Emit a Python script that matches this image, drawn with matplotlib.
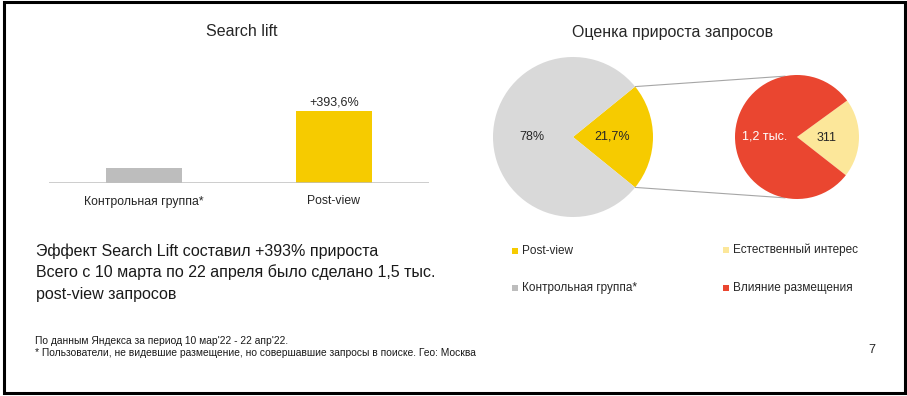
import matplotlib
matplotlib.use("Agg")
import matplotlib.pyplot as plt
from matplotlib.patches import Rectangle, ConnectionPatch
import numpy as np

plt.rcParams['font.family'] = ['Liberation Sans', 'DejaVu Sans']

# ---- data ----
bar_categories = ["Контрольная группа*", "Post-view"]
bar_values = [1.0, 4.936]
bar_label = "+393,6%"

pie1_values = [21.7, 78.3]
pie1_labels = ["21,7%", "78%"]

pie2_values = [311, 1200]
pie2_labels = ["311", "1,2 тыс."]

legend_labels = ["Post-view", "Контрольная группа*", "Естественный интерес", "Влияние размещения"]

main_text = ["Эффект Search Lift составил +393% прироста",
             "Всего с 10 марта по 22 апреля было сделано 1,5 тыс.",
             "post-view запросов"]
foot_text = ["По данным Яндекса за период 10 мар'22 - 22 апр'22.",
             "* Пользователи, не видевшие размещение, но совершавшие запросы в поиске. Гео: Москва"]

# ---- colors ----
C_YEL = "#F6CB00"
C_BARGRAY = "#BDBDBD"
C_PIEGRAY = "#D9D9D9"
C_RED = "#EA4630"
C_LYEL = "#FCE79A"
C_TXT = "#262626"

W, H = 907, 396
fig = plt.figure(figsize=(W / 100, H / 100), dpi=100)

def fx(px):
    return px / W

def fy(py):
    return 1 - py / H

# ---- bar chart ----
ax = fig.add_axes([fx(49), fy(183), fx(380), 100 / H])
x = np.arange(len(bar_values))
bars = ax.bar(x, bar_values, width=0.405, color=[C_BARGRAY, C_YEL], zorder=2)
ax.set_xlim(-0.5, 1.5)
ax.set_ylim(0, bar_values[1] * 100 / 72)
ax.axhline(0, color="#BFBFBF", lw=1.8, zorder=3)
for s in ax.spines.values():
    s.set_visible(False)
ax.set_yticks([])
ax.set_xticks(x)
ax.set_xticklabels(bar_categories, fontsize=8.8, color=C_TXT)
ax.tick_params(axis='x', length=0, pad=9)
ax.annotate(bar_label, (x[1], bar_values[1]), xytext=(0, 1.5), textcoords="offset points",
            ha="center", va="bottom", fontsize=9, color=C_TXT)
fig.text(fx(242), fy(31), "Search lift", ha="center", va="center", fontsize=11.5, color=C_TXT)

# ---- pie 1 ----
r1 = 80
ax1 = fig.add_axes([fx(573 - r1), fy(137 + r1), fx(2 * r1), 2 * r1 / H])
start1 = -pie1_values[0] / sum(pie1_values) * 360 / 2
w1, _ = ax1.pie(pie1_values, colors=[C_YEL, C_PIEGRAY], startangle=start1,
                counterclock=True, radius=1, wedgeprops=dict(linewidth=0))
ax1.set_xlim(-1, 1); ax1.set_ylim(-1, 1)
for w, lab, d in zip(w1, pie1_labels, [0.49, 0.51]):
    a = np.deg2rad((w.theta1 + w.theta2) / 2)
    ax1.text(d * np.cos(a), d * np.sin(a), lab, ha="center", va="center", fontsize=9, color=C_TXT)

# ---- pie 2 ----
r2 = 62
ax2 = fig.add_axes([fx(797 - r2), fy(137 + r2), fx(2 * r2), 2 * r2 / H])
start2 = -pie2_values[0] / sum(pie2_values) * 360 / 2 - 1
w2, _ = ax2.pie(pie2_values, colors=[C_LYEL, C_RED], startangle=start2,
                counterclock=True, radius=1, wedgeprops=dict(linewidth=0))
ax2.set_xlim(-1, 1); ax2.set_ylim(-1, 1)
for w, lab, d, c in zip(w2, pie2_labels, [0.47, 0.52], [C_TXT, "white"]):
    a = np.deg2rad((w.theta1 + w.theta2) / 2)
    ax2.text(d * np.cos(a), d * np.sin(a), lab, ha="center", va="center", fontsize=9, color=c)

fig.text(fx(673), fy(32), "Оценка прироста запросов", ha="center", va="center", fontsize=11.5, color=C_TXT)

# connectors
for t1, t2 in [(w1[0].theta2, 101), (w1[0].theta1, -101)]:
    a1, a2 = np.deg2rad(t1), np.deg2rad(t2)
    con = ConnectionPatch(xyA=(np.cos(a1), np.sin(a1)), coordsA=ax1.transData,
                          xyB=(np.cos(a2), np.sin(a2)), coordsB=ax2.transData,
                          color="#A6A6A6", lw=0.8, zorder=0)
    fig.add_artist(con)

# ---- legend ----
leg_pos = [(512, 251), (512, 288), (723, 250), (723, 288)]
leg_cols = [C_YEL, C_BARGRAY, C_LYEL, C_RED]
for (px, py), lab, c in zip(leg_pos, legend_labels, leg_cols):
    fig.patches.append(Rectangle((fx(px), fy(py + 3)), fx(6), 6 / H, transform=fig.transFigure,
                                 facecolor=c, edgecolor="none"))
    fig.text(fx(px + 10), fy(py), lab, ha="left", va="center", fontsize=8.5, color=C_TXT)

# ---- text block ----
for i, line in enumerate(main_text):
    fig.text(fx(36), fy(251 + i * 21.5), line, ha="left", va="center", fontsize=11.5, color="#1a1a1a")
for i, line in enumerate(foot_text):
    fig.text(fx(35), fy(341 + i * 11.5), line, ha="left", va="center", fontsize=7.4, color="#1a1a1a")
fig.text(fx(872), fy(350), "7", ha="center", va="center", fontsize=9, color=C_TXT)

# ---- border ----
fig.patches.append(Rectangle((fx(4), fy(393)), fx(901), 391 / H, transform=fig.transFigure,
                             facecolor="none", edgecolor="black", lw=2.2))

fig.savefig("out.png", dpi=100, facecolor="white")
